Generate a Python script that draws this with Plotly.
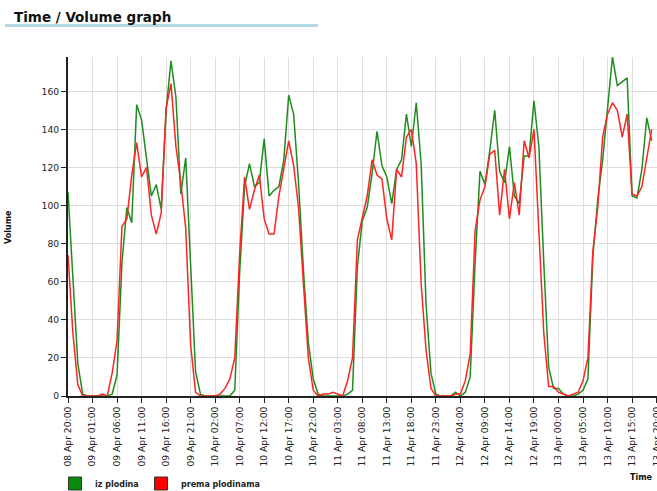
import pandas as pd
import plotly.graph_objects as go

# ---- data (hourly, starting 08 Apr 20:00) ----
start_time = "2014-04-08 20:00"
iz_plodina = [
    107, 62, 17, 1, 0, 0, 0, 0, 0, 1, 11, 70, 99, 91, 153, 145, 126, 105, 111, 98,
    150, 176, 157, 106, 125, 65, 13, 1, 0, 0, 0, 0, 0, 0, 3, 65, 110, 122, 110, 112,
    135, 105, 108, 110, 124, 158, 148, 112, 66, 28, 9, 1, 0, 0, 0, 0, 0, 1, 3, 68,
    92, 99, 117, 139, 121, 115, 101, 119, 124, 148, 131, 154, 122, 48, 12, 1, 0, 0, 0, 2,
    0, 2, 10, 70, 118, 111, 129, 150, 118, 112, 131, 105, 101, 126, 126, 155, 131, 70, 15, 4,
    4, 1, 0, 0, 1, 3, 9, 73, 103, 124, 150, 178, 163, 165, 167, 105, 104, 119, 146, 134,
]
prema_plodinama = [
    74, 33, 6, 0, 0, 0, 0, 1, 0, 12, 29, 89, 93, 116, 133, 115, 120, 95, 85, 96,
    151, 164, 131, 112, 88, 27, 2, 0, 0, 0, 0, 1, 4, 9, 20, 75, 115, 98, 108, 116,
    93, 85, 85, 105, 120, 134, 121, 99, 59, 20, 3, 0, 1, 1, 2, 1, 0, 8, 20, 82,
    94, 105, 124, 116, 114, 93, 82, 119, 115, 136, 140, 122, 59, 24, 4, 0, 0, 0, 0, 1,
    1, 8, 22, 87, 103, 110, 127, 129, 95, 119, 93, 112, 95, 134, 125, 140, 84, 33, 5, 5,
    2, 1, 0, 1, 2, 8, 20, 76, 99, 136, 148, 154, 150, 136, 148, 106, 105, 110, 126, 140,
]
times = pd.date_range(start_time, periods=len(iz_plodina), freq="h")
series_names = ["iz plodina", "prema plodinama"]
y_ticks = [0, 20, 40, 60, 80, 100, 120, 140, 160]

W, H = 657, 491
L, R, T, B = 68, 0, 57, 95
pw, ph = W - L - R, H - T - B

def px(x):
    return (x - L) / pw

def py(y):
    return (H - B - y) / ph

GREEN = "#1f8c1f"
RED = "#ff2424"
FONT = "DejaVu Sans"

fig = go.Figure()
fig.add_trace(go.Scatter(x=times, y=iz_plodina, mode="lines",
                         line=dict(color=GREEN, width=1.5), showlegend=False))
fig.add_trace(go.Scatter(x=times, y=prema_plodinama, mode="lines",
                         line=dict(color=RED, width=1.5), showlegend=False))
# legend entries (square swatches)
fig.add_trace(go.Scatter(x=[None], y=[None], mode="markers", name="<b>" + series_names[0] + "</b>",
                         legendwidth=41,
                         marker=dict(symbol="square", size=13, color="#0a8a0a",
                                     line=dict(color="#333", width=1))))
fig.add_trace(go.Scatter(x=[None], y=[None], mode="markers", name="<b>" + series_names[1] + "</b>",
                         marker=dict(symbol="square", size=13, color="#ff0000",
                                     line=dict(color="#333", width=1))))

fig.update_layout(
    width=W, height=H,
    margin=dict(l=L, r=R, t=T, b=B, pad=0, autoexpand=False),
    paper_bgcolor="white", plot_bgcolor="white",
    font=dict(family=FONT, color="#222", size=9),
    showlegend=True,
    legend=dict(orientation="h", x=px(55), xanchor="left", y=py(469), yanchor="top",
                font=dict(size=8, color="#222"),
                bgcolor="rgba(0,0,0,0)"),
    xaxis=dict(
        type="date",
        range=["2014-04-08 20:00", "2014-04-13 20:05"],
        tick0="2014-04-08 20:00", dtick=5 * 3600 * 1000,
        tickformat="%d %b %H:%M", tickangle=-90,
        ticks="outside", ticklen=5, tickcolor="#222",
        ticklabeloverflow="allow",
        showline=True, linecolor="#222", linewidth=2,
        showgrid=True, gridcolor="#dedede", gridwidth=1,
        zeroline=False, layer="below traces",
        tickfont=dict(size=9.2, color="#222"),
        automargin=False, fixedrange=True,
    ),
    yaxis=dict(
        range=[0, 178], tickvals=y_ticks,
        ticks="outside", ticklen=5, tickcolor="#222",
        showline=True, linecolor="#222", linewidth=2,
        showgrid=True, gridcolor="#dedede", gridwidth=1,
        zeroline=False, layer="below traces",
        tickfont=dict(size=9.2, color="#222"),
        automargin=False, fixedrange=True,
    ),
    annotations=[
        dict(text="<b>Time / Volume graph</b>", xref="paper", yref="paper",
             x=px(12), y=py(17), xanchor="left", yanchor="middle", showarrow=False,
             font=dict(size=13.5, color="#111")),
        dict(text="<b>Volume</b>", xref="paper", yref="paper", textangle=-90,
             x=px(8), y=py(227), xanchor="center", yanchor="middle", showarrow=False,
             font=dict(size=8, color="#111")),
        dict(text="<b>Time</b>", xref="paper", yref="paper",
             x=px(641), y=py(477), xanchor="center", yanchor="middle", showarrow=False,
             font=dict(size=8, color="#111")),
    ],
    shapes=[
        dict(type="line", xref="paper", yref="paper", x0=px(5), x1=px(318),
             y0=py(25.5), y1=py(25.5), line=dict(color="#b3d9e6", width=3)),
    ],
)

fig.write_html("out.html", config={"displayModeBar": False},
               post_script="document.body.style.margin='0px';document.body.style.overflow='hidden';")
